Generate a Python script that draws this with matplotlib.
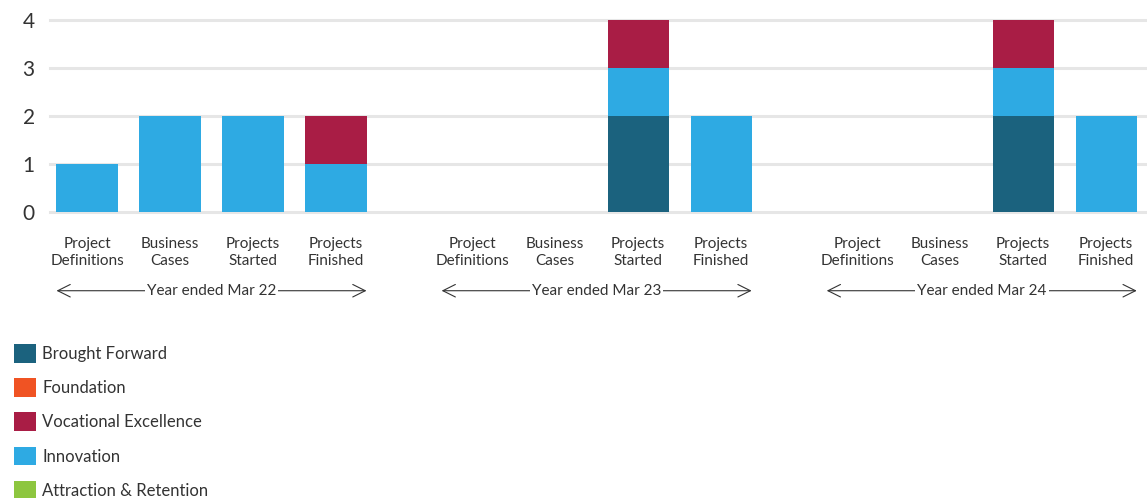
import numpy as np
import matplotlib.pyplot as plt
from matplotlib.patches import Patch
import matplotlib.transforms as mtransforms

plt.rcParams['font.family'] = ['Lato', 'DejaVu Sans']

# ------------------------------------------------
#           DATA
# ------------------------------------------------
years = ['Year ended Mar 22', 'Year ended Mar 23', 'Year ended Mar 24']
stages = ['Project\nDefinitions', 'Business\nCases', 'Projects\nStarted', 'Projects\nFinished']

# one value per bar, 4 stages x 3 years
brought_forward = [0, 0, 0, 0, 0, 0, 2, 0, 0, 0, 2, 0]
attraction = [0, 0, 0, 0, 0, 0, 0, 0, 0, 0, 0, 0]
innovation = [1, 2, 2, 1, 0, 0, 1, 2, 0, 0, 1, 2]
vocational = [0, 0, 0, 1, 0, 0, 1, 0, 0, 0, 1, 0]
foundation = [0, 0, 0, 0, 0, 0, 0, 0, 0, 0, 0, 0]

yticks = [0, 1, 2, 3, 4]

# stack order bottom -> top
series = [
    ('Brought Forward', brought_forward, '#1b627e'),
    ('Attraction & Retention', attraction, '#8dc63f'),
    ('Innovation', innovation, '#2eaae3'),
    ('Vocational Excellence', vocational, '#a91d45'),
    ('Foundation', foundation, '#f05323'),
]
legend_order = ['Brought Forward', 'Foundation', 'Vocational Excellence',
                'Innovation', 'Attraction & Retention']

txt = '#333333'
group_step = 4.64
bw = 0.735

W, H = 1147, 498
fig = plt.figure(figsize=(W / 100, H / 100), dpi=100)
ax = fig.add_axes([50 / W, (H - 212) / H, 1 - 50 / W, 192 / H])

x = np.array([j + group_step * i for i in range(len(years)) for j in range(len(stages))])

bottom = np.zeros(len(x))
for name, vals, col in series:
    vals = np.array(vals, dtype=float)
    ax.bar(x, vals, bw, bottom=bottom, color=col, zorder=2)
    bottom += vals

for t in yticks:
    ax.axhline(t, color='#e6e6e6', lw=2.2, zorder=1, clip_on=False)

ax.set_xlim((50 - 87) / 83, (W - 87) / 83)
ax.set_ylim(0, 4)
ax.set_yticks(yticks)
ax.set_yticklabels([str(t) for t in yticks], fontsize=15, color=txt)
ax.tick_params(axis='y', length=0, pad=11)
ax.set_xticks([])
for s in ax.spines.values():
    s.set_visible(False)

trans = mtransforms.blended_transform_factory(ax.transData, ax.transAxes)
for i, yr in enumerate(years):
    for j, st in enumerate(stages):
        ax.text(j + group_step * i, -0.21, st, transform=trans, ha='center', va='center',
                fontsize=11, color=txt, linespacing=1.3)
    x0 = group_step * i - bw / 2
    x1 = group_step * i + 3 + bw / 2
    ax.annotate('', xy=(x0, -0.41), xytext=(x1, -0.41), xycoords=trans, textcoords=trans,
                arrowprops=dict(arrowstyle='<->,head_length=0.9,head_width=0.45',
                                color=txt, lw=0.8, shrinkA=0, shrinkB=0))
    ax.text((x0 + x1) / 2, -0.41, yr, transform=trans, ha='center', va='center',
            fontsize=11, color=txt, bbox=dict(facecolor='white', edgecolor='none', pad=1.5))

colors = {n: c for n, _, c in series}
handles = [Patch(facecolor=colors[n], edgecolor='none', label=n) for n in legend_order]
fig.legend(handles=handles, loc='upper left', bbox_to_anchor=(14 / W, (H - 344) / H),
           frameon=False, fontsize=12, handlelength=1.3, handleheight=1.35,
           handletextpad=0.4, labelspacing=0.93, borderpad=0, borderaxespad=0,
           labelcolor=txt)

fig.savefig('out.png', dpi=100)
